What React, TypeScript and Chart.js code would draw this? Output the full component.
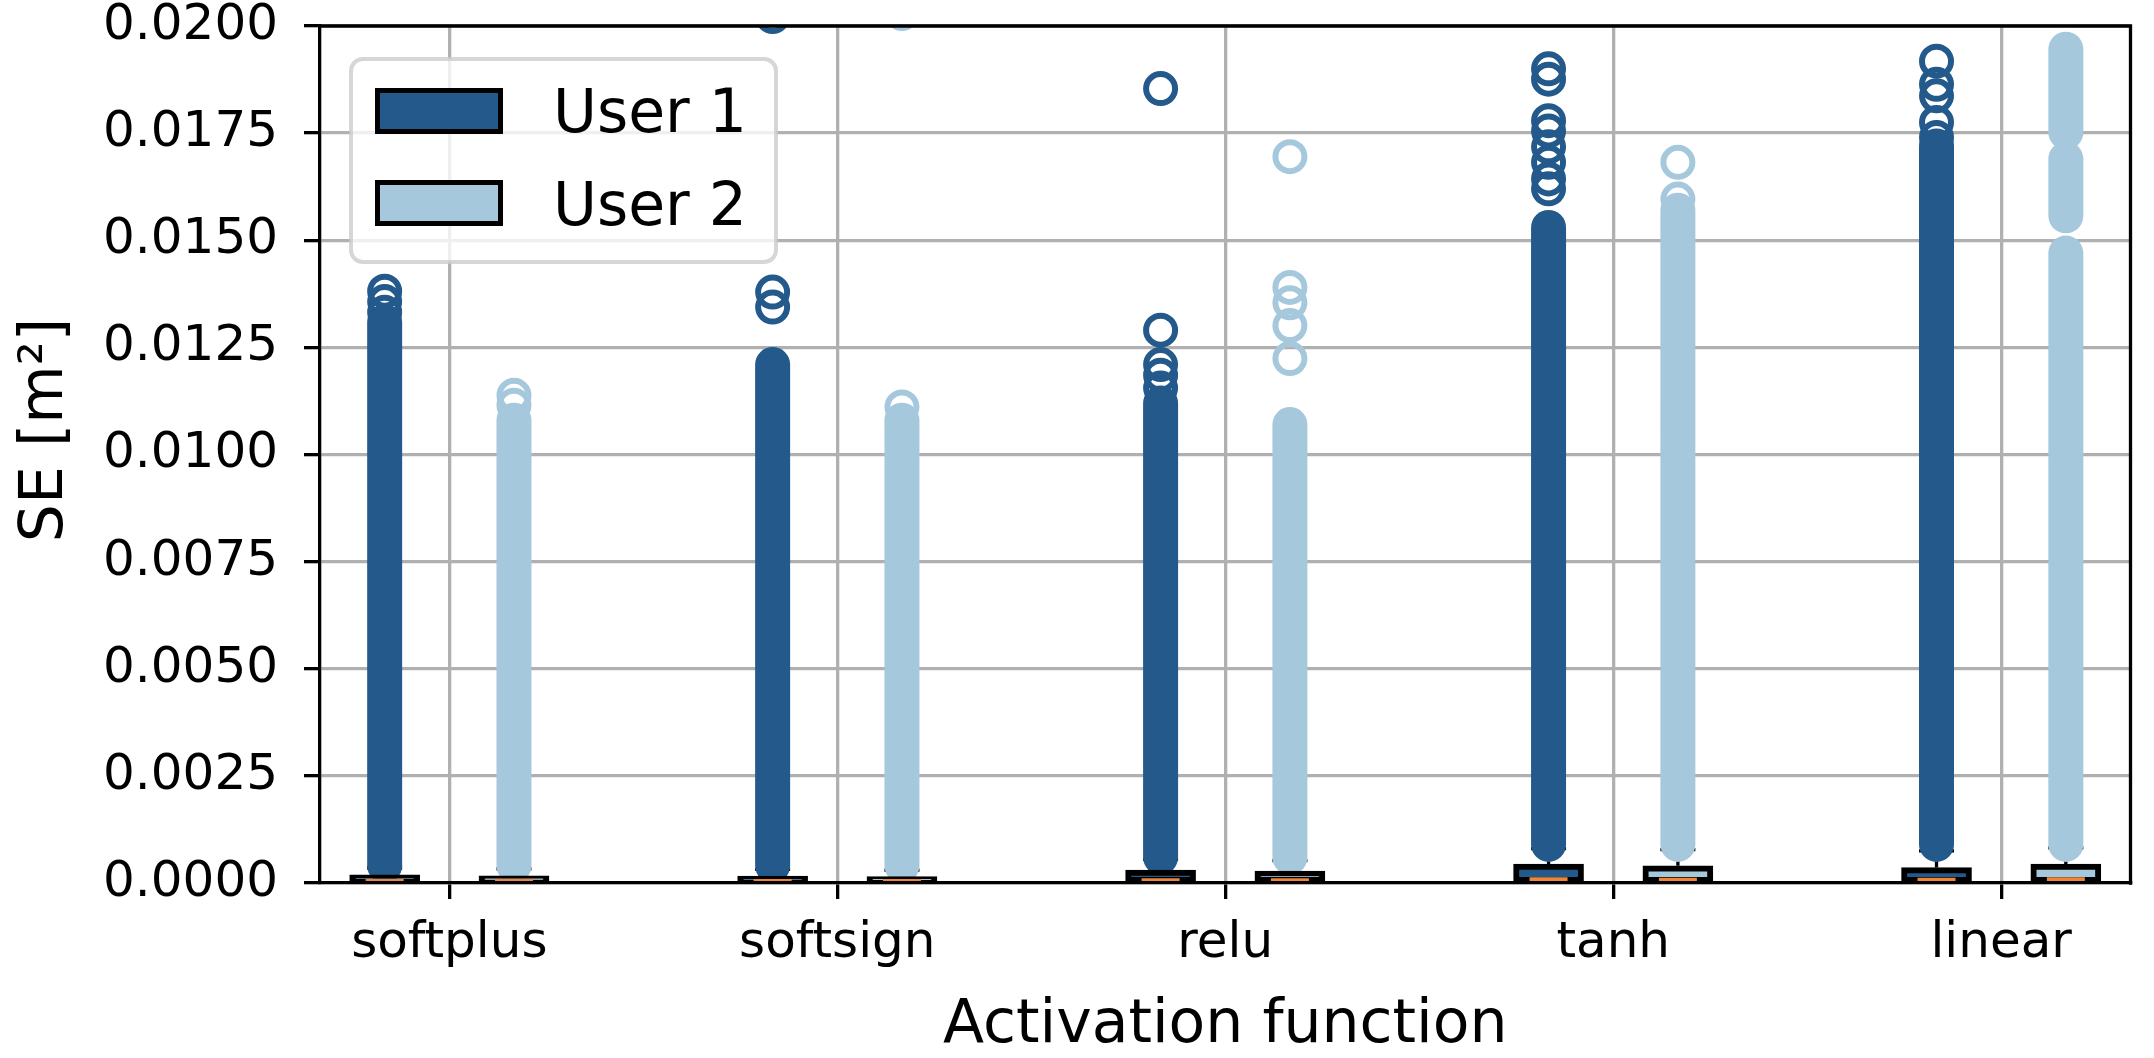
import React, { useEffect, useRef } from 'react';
import { Chart, registerables } from 'chart.js';

Chart.register(...registerables);

const categories = ['softplus', 'softsign', 'relu', 'tanh', 'linear'];
const seriesNames = ['User 1', 'User 2'];
const yTickValues = [0, 0.0025, 0.005, 0.0075, 0.01, 0.0125, 0.015, 0.0175, 0.02];

// box statistics per activation function
const user1Q1 = [0.00001, 0.00001, 0.00001, 0.00001, 0.00001];
const user1Q3 = [0.00019, 0.00016, 0.0003, 0.00044, 0.00036];
const user1Median = [0.00004, 0.00004, 0.00006, 0.00008, 0.00007];
const user1Whisker = [0.00035, 0.00032, 0.00055, 0.0008, 0.00075];

const user2Q1 = [0.00001, 0.00001, 0.00001, 0.00001, 0.00001];
const user2Q3 = [0.00017, 0.00015, 0.00028, 0.0004, 0.00044];
const user2Median = [0.00004, 0.00004, 0.00006, 0.00007, 0.00008];
const user2Whisker = [0.00033, 0.0003, 0.00052, 0.00078, 0.00082];

// ranges where the outlier circles are packed into a solid column
const user1Dense = [
  [[0.0004, 0.0131]],
  [[0.0004, 0.0121]],
  [[0.0006, 0.0112]],
  [[0.0009, 0.0153]],
  [[0.0009, 0.0172]],
];
const user2Dense = [
  [[0.0004, 0.0108]],
  [[0.0004, 0.0108]],
  [[0.0006, 0.0107]],
  [[0.0009, 0.0157]],
  [[0.0009, 0.0147], [0.01557, 0.0169], [0.01752, 0.01946]],
];

// single outliers above the packed columns
const user1Outliers = [
  [0.01381, 0.01357, 0.01332],
  [0.02022, 0.01379, 0.01344],
  [0.01854, 0.0129, 0.0121, 0.01185, 0.01155],
  [0.019, 0.01876, 0.01779, 0.01755, 0.01718, 0.01682, 0.01643, 0.0162],
  [0.01918, 0.01864, 0.01837, 0.01775, 0.0174],
];
const user2Outliers = [
  [0.01138, 0.01115],
  [0.02029, 0.01111],
  [0.01695, 0.0139, 0.01354, 0.01301, 0.01224],
  [0.01682, 0.01596],
  [],
];

const DARK = '#24598B';
const LIGHT = '#A6C8DD';
const MEDIAN = '#EF8636';
const GRID = '#B0B0B0';
const FONT = "'DejaVu Sans', sans-serif";
const OFFSET = 1 / 6;

const xPos = (i: number, s: number) => i + 1 + (s === 0 ? -OFFSET : OFFSET);

const pointData = (vals: number[], s: number) => vals.map((v, i) => ({ x: xPos(i, s), y: v }));
const boxData = (lo: number[], hi: number[], s: number) =>
  lo.map((v, i) => ({ x: xPos(i, s), y: [v, hi[i]] }));
const rangeData = (ranges: number[][][], s: number) => {
  const out: { x: number; y: number | null }[] = [];
  ranges.forEach((list, i) =>
    list.forEach(([a, b]) => {
      out.push({ x: xPos(i, s), y: a }, { x: xPos(i, s), y: b }, { x: xPos(i, s), y: null });
    })
  );
  return out;
};
const outlierData = (lists: number[][], s: number) =>
  lists.flatMap((list, i) => list.map((v) => ({ x: xPos(i, s), y: v })));
const whiskerRanges = (q3: number[], wh: number[]) => q3.map((v, i) => [[v, wh[i]]]);

// top/right spines and the legend box inside the axes
const framePlugin = {
  id: 'frameAndLegend',
  afterDraw(chart: any) {
    const { ctx, chartArea } = chart;
    ctx.save();
    ctx.strokeStyle = '#000';
    ctx.lineWidth = 3.3;
    ctx.lineCap = 'square';
    ctx.beginPath();
    ctx.moveTo(chartArea.left, chartArea.top);
    ctx.lineTo(chartArea.right, chartArea.top);
    ctx.lineTo(chartArea.right, chartArea.bottom);
    ctx.stroke();

    const x = chartArea.left + 31;
    const y = chartArea.top + 33;
    ctx.beginPath();
    ctx.roundRect(x, y, 425, 203, 12);
    ctx.fillStyle = 'rgba(255,255,255,0.8)';
    ctx.fill();
    ctx.lineWidth = 4;
    ctx.strokeStyle = 'rgba(204,204,204,0.8)';
    ctx.stroke();

    const colors = [DARK, LIGHT];
    seriesNames.forEach((name, i) => {
      const sy = y + 29 + i * 92;
      ctx.fillStyle = colors[i];
      ctx.fillRect(x + 26.5, sy + 2.5, 123, 41);
      ctx.lineWidth = 5;
      ctx.strokeStyle = '#000';
      ctx.strokeRect(x + 26.5, sy + 2.5, 123, 41);
      ctx.fillStyle = '#000';
      ctx.font = `60px ${FONT}`;
      ctx.textBaseline = 'alphabetic';
      ctx.textAlign = 'left';
      ctx.fillText(name, x + 202, y + 73 + i * 93);
    });
    ctx.restore();
  },
};

export default function App() {
  const canvasRef = useRef<HTMLCanvasElement>(null);

  useEffect(() => {
    if (!canvasRef.current) return;
    Chart.defaults.font.family = FONT;
    Chart.defaults.color = '#000';

    const chart = new Chart(canvasRef.current, {
      type: 'scatter',
      data: {
        datasets: [
          {
            type: 'scatter',
            label: 'User 1 median',
            data: pointData(user1Median, 0),
            pointStyle: 'line',
            pointRadius: 19,
            pointBorderWidth: 4.5,
            pointBorderColor: MEDIAN,
            pointBackgroundColor: MEDIAN,
          },
          {
            type: 'scatter',
            label: 'User 2 median',
            data: pointData(user2Median, 1),
            pointStyle: 'line',
            pointRadius: 19,
            pointBorderWidth: 4.5,
            pointBorderColor: MEDIAN,
            pointBackgroundColor: MEDIAN,
          },
          {
            type: 'bar',
            label: 'User 1',
            data: boxData(user1Q1, user1Q3, 0),
            backgroundColor: DARK,
            borderColor: '#000',
            borderWidth: 6,
            borderSkipped: false,
            barThickness: 70,
            grouped: false,
          },
          {
            type: 'bar',
            label: 'User 2',
            data: boxData(user2Q1, user2Q3, 1),
            backgroundColor: LIGHT,
            borderColor: '#000',
            borderWidth: 6,
            borderSkipped: false,
            barThickness: 70,
            grouped: false,
          },
          {
            type: 'scatter',
            label: 'User 1 outliers',
            data: outlierData(user1Outliers, 0),
            pointStyle: 'circle',
            pointRadius: 14.5,
            pointBorderWidth: 6,
            pointBorderColor: DARK,
            pointBackgroundColor: 'rgba(0,0,0,0)',
            clip: 0,
          },
          {
            type: 'scatter',
            label: 'User 2 outliers',
            data: outlierData(user2Outliers, 1),
            pointStyle: 'circle',
            pointRadius: 14.5,
            pointBorderWidth: 6,
            pointBorderColor: LIGHT,
            pointBackgroundColor: 'rgba(0,0,0,0)',
            clip: 0,
          },
          {
            type: 'line',
            label: 'User 1 packed outliers',
            data: rangeData(user1Dense, 0),
            borderColor: DARK,
            borderWidth: 35,
            borderCapStyle: 'round',
            pointRadius: 0,
            spanGaps: false,
            fill: false,
            clip: 0,
          },
          {
            type: 'line',
            label: 'User 2 packed outliers',
            data: rangeData(user2Dense, 1),
            borderColor: LIGHT,
            borderWidth: 35,
            borderCapStyle: 'round',
            pointRadius: 0,
            spanGaps: false,
            fill: false,
            clip: 0,
          },
          {
            type: 'line',
            label: 'whiskers',
            data: [
              ...rangeData(whiskerRanges(user1Q3, user1Whisker), 0),
              ...rangeData(whiskerRanges(user2Q3, user2Whisker), 1),
            ].sort((a, b) => a.x - b.x),
            borderColor: '#000',
            borderWidth: 3.3,
            pointRadius: 0,
            spanGaps: false,
            fill: false,
          },
          {
            type: 'scatter',
            label: 'caps',
            data: [...pointData(user1Whisker, 0), ...pointData(user2Whisker, 1)],
            pointStyle: 'line',
            pointRadius: 17.5,
            pointBorderWidth: 3.3,
            pointBorderColor: '#000',
          },
        ],
      } as any,
      options: {
        animation: false,
        responsive: true,
        maintainAspectRatio: false,
        devicePixelRatio: 1,
        events: [],
        layout: { padding: { top: 26, right: 18, bottom: 0, left: 0 } },
        plugins: {
          legend: { display: false },
          tooltip: { enabled: false },
        },
        scales: {
          x: {
            type: 'linear',
            min: 2 / 3,
            max: 16 / 3,
            offset: false,
            afterFit: (scale: any) => {
              scale.height = 175;
            },
            afterBuildTicks: (scale: any) => {
              scale.ticks = categories.map((_, i) => ({ value: i + 1 }));
            },
            ticks: {
              autoSkip: false,
              maxRotation: 0,
              padding: 15,
              font: { size: 50 },
              color: '#000',
              callback: (value: any) => categories[Math.round(Number(value)) - 1] ?? '',
            },
            grid: {
              offset: false,
              color: GRID,
              lineWidth: 3.3,
              tickColor: '#000',
              tickLength: 16,
              tickWidth: 3.3,
            },
            border: { color: '#000', width: 3.3, z: 1 },
            title: {
              display: true,
              text: 'Activation function',
              font: { size: 60, lineHeight: 1 },
              padding: { top: 0, bottom: 2 },
              color: '#000',
            },
          },
          y: {
            type: 'linear',
            min: 0,
            max: 0.02,
            afterFit: (scale: any) => {
              scale.width = 320;
              scale.paddingTop = 0;
              scale.paddingBottom = 0;
            },
            afterBuildTicks: (scale: any) => {
              scale.ticks = yTickValues.map((v) => ({ value: v }));
            },
            ticks: {
              padding: 26,
              font: { size: 50, lineHeight: 1 },
              color: '#000',
              callback: (value: any) => Number(value).toFixed(4),
            },
            grid: {
              color: GRID,
              lineWidth: 3.3,
              tickColor: '#000',
              tickLength: 16,
              tickWidth: 3.3,
            },
            border: { color: '#000', width: 3.3, z: 1 },
            title: {
              display: true,
              text: '\u2002 SE [m²]',
              font: { size: 60, lineHeight: 1 },
              padding: { top: 16, bottom: 0 },
              color: '#000',
            },
          },
        },
      } as any,
      plugins: [framePlugin],
    });

    return () => {
      chart.destroy();
    };
  }, []);

  return (
    <div
      style={{
        position: 'fixed',
        left: 0,
        top: 0,
        width: 2154,
        height: 1058,
        background: '#fff',
      }}
    >
      <canvas ref={canvasRef}></canvas>
    </div>
  );
}
